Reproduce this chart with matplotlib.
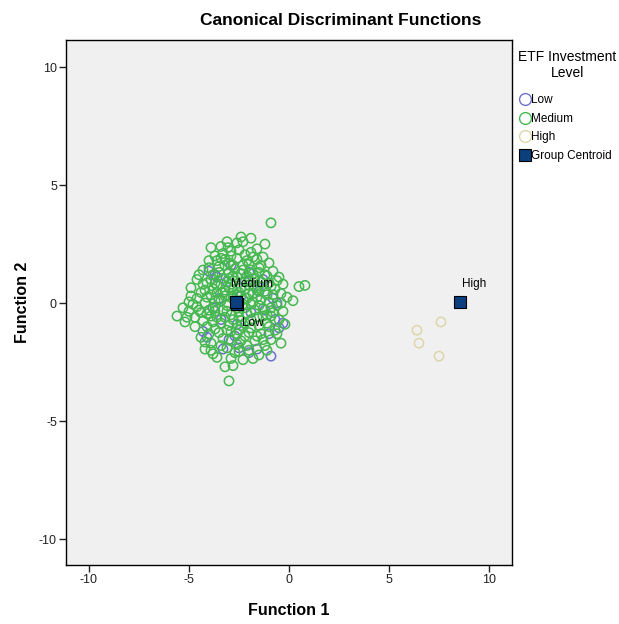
import matplotlib
matplotlib.use("Agg")
import matplotlib.pyplot as plt
from matplotlib.lines import Line2D

plt.rcParams['font.family'] = ['Liberation Sans', 'DejaVu Sans']
plt.rcParams['axes.unicode_minus'] = False

# discriminant scores per group (function 1, function 2)
low_x = [-4.3, -4.1, -3.3, -0.9, -0.3, -0.5, -4.0, -3.7, -3.0, -2.5, -2.0, -1.6, -1.5, -3.5, -2.2, -1.2,
         -0.7, -0.8, -2.9, -3.4, -2.6, -1.9, -3.1, -2.0, -1.0, -3.8, -0.6, -2.4, -1.3, -3.6, -2.7]
low_y = [-1.2, -1.45, -1.95, -2.25, -0.85, -1.05, 1.35, 1.2, -1.55, -1.9, -2.1, -1.95, 0.5, 0.2, 0.9, -0.3,
         -0.7, 0.2, 1.6, -0.7, -0.9, -0.4, 0.9, 1.3, -1.3, -0.2, 0.0, 0.3, 1.0, 1.1, -1.4]

medium_x = [-0.9, -2.4, -1.9, -3.4, -3.05, -2.9, -1.6, -2.2, -3.7, -1.3, -2.6, -3.2, -4.0, -1.0, -2.0, -3.5,
            -2.8, -1.5, -4.3, -0.8, -2.3, -3.0, -1.8, -3.8, -1.1, -2.6, -4.6, -3.3, -2.0, -0.6, -1.4, -4.1,
            -2.9, -3.6, -1.7, -0.9, 0.5, 0.8, -4.9, -2.4, -3.2, -1.2, -4.4, -2.0, -0.4, -3.9, -2.8, -1.6,
            -5.0, -4.8, 0.2, -3.4, -2.3, -1.0, -4.2, -1.9, -0.6, -3.7, -2.6, -1.3, -4.5, -3.1, -0.8, -2.1,
            -5.6, -5.1, -5.2, -3.9, -1.6, -2.8, -0.5, -4.3, -3.4, -1.1, -2.4, -4.7, -1.9, -3.7, -0.7, -2.9,
            -4.0, -1.4, -4.4, -2.2, -3.3, -0.9, -1.7, -3.9, -2.6, -4.2, -1.2, -3.1, -2.0, -3.8, -2.7, -1.5,
            -3.6, -2.3, -3.2, -2.8, -3.0, -1.8,
            -2.7, -2.5, -3.0, -2.2, -3.3, -2.0, -3.6, -1.5, -2.9, -2.4, -3.5, -1.7, -3.9, -2.1, -2.7, -3.2,
            -1.4, -2.9, -3.3, -2.5, -1.9, -3.0, -1.8, -1.1, -3.8, -4.1, -4.0, -3.6, -2.5, -1.9, -1.3, -0.9,
            -0.4, -0.3, -1.0, -1.5, -2.0, -2.6, -3.0, -3.5, -4.1, -4.4, -4.6, -4.3, -4.7, -3.2, -2.3, -1.6,
            -1.2, -0.7, -0.5, -0.1, -0.2, -0.6, -1.3, -2.4, -2.9, -3.4, -2.1, -1.6, -3.7, -3.1, -2.2, -2.8,
            -3.4, -1.9, -2.3, -3.0, -3.6, -1.6, -2.6, -2.3, -1.2, -3.1, -4.5, -3.9, -5.3, -5.0, -4.9, -4.2,
            -3.9, -2.5, -2.9, -1.1, -0.4, -1.8, -2.1, -2.5, -3.3, -2.8, -1.4, -1.0, -0.3, -4.0, -3.7,
            -2.4, -3.5, -1.7, -2.8, -4.2, -1.1, -3.1, -2.0, -4.6, -3.4, -1.8, -2.6, -0.8, -3.8, -2.2, -1.4,
            -4.1, -2.9, -3.2, -1.5, -2.5, -3.7, -0.9, -2.1]
medium_y = [3.4, 2.8, 2.75, 2.4, 2.35, 2.2, 2.3, 2.05, 2.0, 1.95, 1.9, 1.85, 1.8, 1.7, 1.65, 1.55,
            1.6, 1.5, 1.4, 1.35, 1.4, 1.3, 1.25, 1.2, 1.15, 1.1, 1.0, 1.05, 1.0, 0.95, 0.9, 0.85,
            0.8, 0.75, 0.7, 0.7, 0.7, 0.75, 0.65, 0.65, 0.55, 0.5, 0.45, 0.4, 0.4, 0.35, 0.3, 0.25,
            0.05, -0.05, 0.1, 0.1, 0.15, 0.05, 0.0, -0.05, -0.1, -0.15, -0.2, -0.25, -0.3, -0.35, -0.4, -0.45,
            -0.55, -0.6, -0.8, -0.55, -0.6, -0.7, -0.7, -0.75, -0.85, -0.85, -0.95, -1.0, -1.05, -1.1, -1.15, -1.2,
            -1.3, -1.3, -1.45, -1.4, -1.5, -1.55, -1.6, -1.7, -1.75, -1.95, -1.8, -1.9, -2.0, -2.15, -2.1, -2.2,
            -2.3, -2.4, -2.7, -2.65, -3.3, -2.35,
            0.05, 0.45, 0.65, -0.2, -0.3, 0.75, 0.45, -0.1, -0.5, 1.25, 1.3, 1.05, 1.0, 1.8, 1.45, 1.6,
            1.6, 2.0, 2.1, 2.25, 2.15, 1.05, 0.4, 0.35, 0.6, 0.25, -0.3, -0.6, -0.6, -0.7, -0.55, -0.2,
            0.0, -0.35, -1.0, -0.95, -1.25, -1.3, -0.95, -1.25, -1.0, -0.4, 0.2, 0.8, -0.6, 0.3, -0.05, 0.55,
            1.2, 0.6, 1.1, 0.25, -0.9, -1.3, -1.55, -1.6, -1.6, -1.8, -1.8, -1.4, -0.35, -0.1, 0.6, 1.15,
            0.8, 1.4, 1.6, 1.7, 1.8, 1.85, 2.55, 2.6, 2.5, 2.6, 1.2, 2.35, -0.2, -0.35, 0.3, -1.65,
            -2.0, -2.05, -2.35, -2.0, -1.7, 0.05, 0.2, -0.35, 0.45, 0.55, 0.15, 0.85, 0.8, 1.5, 0.1,
            -0.75, 0.15, -0.3, 0.95, 0.55, -0.5, -1.15, 0.9, -0.15, 1.9, 1.95, 0.35, 0.35, -0.8, -0.85, 0.7,
            -0.45, 0.25, -0.6, 1.3, -1.15, 0.85, -0.55, 1.15]

high_x = [6.4, 6.5, 7.6, 7.5]
high_y = [-1.15, -1.7, -0.8, -2.25]

centroid_names = ['Low', 'Medium', 'High']
centroid_x = [-2.6, -2.65, 8.55]
centroid_y = [-0.02, 0.04, 0.04]

low_col = '#6b72c9'
med_col = '#45b84f'
high_col = '#dcd6a8'
cent_col = '#0b3f7d'

fig = plt.figure(figsize=(6.19, 6.24), dpi=100)
ax = fig.add_axes([0.1066, 0.0946, 0.7205, 0.8413])
ax.set_facecolor('#f0f0f0')

ax.scatter(low_x, low_y, s=45, facecolors='none', edgecolors=low_col, linewidths=1.1)
ax.scatter(medium_x, medium_y, s=45, facecolors='none', edgecolors=med_col, linewidths=1.1)
ax.scatter(high_x, high_y, s=45, facecolors='none', edgecolors=high_col, linewidths=1.1)
ax.scatter(centroid_x, centroid_y, s=85, marker='s', facecolors=cent_col, edgecolors='black', linewidths=0.8, zorder=3)

# centroid labels
ax.text(centroid_x[1] - 0.25, centroid_y[1] + 0.5, centroid_names[1], fontsize=8.5, ha='left', va='bottom')
ax.text(centroid_x[0] + 0.25, centroid_y[0] - 0.55, centroid_names[0], fontsize=8.5, ha='left', va='top')
ax.text(centroid_x[2] + 0.1, centroid_y[2] + 0.5, centroid_names[2], fontsize=8.5, ha='left', va='bottom')

ax.set_xlim(-11.15, 11.15)
ax.set_ylim(-11.1, 11.15)
ax.set_xticks([-10, -5, 0, 5, 10])
ax.set_yticks([-10, -5, 0, 5, 10])
ax.tick_params(labelsize=9, length=5, width=1, colors='#222222', pad=1.5)
for sp in ax.spines.values():
    sp.set_linewidth(1.0)

fig.text(0.551, 0.967, 'Canonical Discriminant Functions', fontsize=12.5, fontweight='bold',
         ha='center', va='center')
ax.set_xlabel('Function 1', fontsize=11.5, fontweight='bold')
ax.set_ylabel('Function 2', fontsize=11.5, fontweight='bold')
ax.xaxis.label.set_va('center')
ax.yaxis.label.set_va('center')
ax.xaxis.set_label_coords(0.5, -0.086)
ax.yaxis.set_label_coords(-0.097, 0.5)

# legend title drawn on its own so it can be centred above the entries
fig.text(0.917, 0.896, 'ETF Investment\nLevel', fontsize=10, ha='center', va='center',
         multialignment='center', linespacing=1.2)
handles = [
    Line2D([], [], marker='o', ls='none', mfc='none', mec=low_col, ms=8.5, mew=1.0),
    Line2D([], [], marker='o', ls='none', mfc='none', mec=med_col, ms=8.5, mew=1.0),
    Line2D([], [], marker='o', ls='none', mfc='none', mec=high_col, ms=8.5, mew=1.0),
    Line2D([], [], marker='s', ls='none', mfc=cent_col, mec='black', ms=8.5, mew=0.8),
]
fig.legend(handles, ['Low', 'Medium', 'High', 'Group Centroid'],
           loc='upper left', bbox_to_anchor=(0.841, 0.849), frameon=False, fontsize=8.5,
           handlelength=0.7, handletextpad=0.15, labelspacing=0.55,
           borderaxespad=0, borderpad=0)

fig.savefig('out.png', dpi=100, facecolor='white')
